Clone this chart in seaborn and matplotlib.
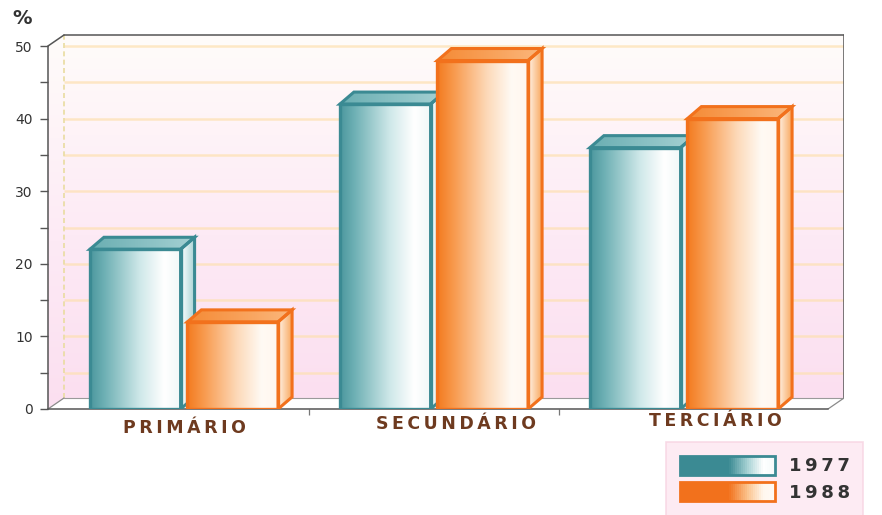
import numpy as np
import pandas as pd
import matplotlib
matplotlib.use("Agg")
import matplotlib.pyplot as plt
import seaborn as sns
from matplotlib.patches import Polygon, Rectangle
from matplotlib.colors import LinearSegmentedColormap, to_rgba
from matplotlib.legend_handler import HandlerBase

# ---- data -------------------------------------------------------------
sectors = ["PRIMÁRIO", "SECUNDÁRIO", "TERCIÁRIO"]
years = ["1977", "1988"]
share_1977 = [22, 42, 36]
share_1988 = [12, 48, 40]
y_ticks = [0, 10, 20, 30, 40, 50]

df = pd.DataFrame({
    "setor": sectors * 2,
    "ano": [years[0]] * 3 + [years[1]] * 3,
    "pct": share_1977 + share_1988,
})

# ---- style ------------------------------------------------------------
sns.set_theme(style="white")
plt.rcParams["font.family"] = ["DejaVu Sans"]

fill = {"1977": "#5aa3a9", "1988": "#f6822a"}
edge = {"1977": "#3b8a93", "1988": "#f2711c"}
front_cm = {
    "1977": LinearSegmentedColormap.from_list(
        "t_front", [(0, "#4c979e"), (0.15, "#6cafb3"), (0.55, "#cfe8e9"),
                    (0.82, "#ffffff"), (1, "#f0f8f8")]),
    "1988": LinearSegmentedColormap.from_list(
        "o_front", [(0, "#f37a1f"), (0.18, "#f8994c"), (0.55, "#fdd9b8"),
                    (0.82, "#fffaf4"), (1, "#fff6ee")]),
}
side_cm = {
    "1977": LinearSegmentedColormap.from_list("t_side", ["#ffffff", "#a6d2d4"]),
    "1988": LinearSegmentedColormap.from_list("o_side", ["#fff4ea", "#f9a960"]),
}
top_cm = {
    "1977": LinearSegmentedColormap.from_list("t_top", ["#6aaeb2", "#a5d1d3"]),
    "1988": LinearSegmentedColormap.from_list("o_top", ["#f58a35", "#fbb77c"]),
}
legend_cm = {
    "1977": LinearSegmentedColormap.from_list(
        "t_leg", [(0, "#3b8a93"), (0.52, "#3b8a93"), (0.72, "#a9d3d5"),
                  (0.88, "#ffffff"), (1, "#f4fafa")]),
    "1988": LinearSegmentedColormap.from_list(
        "o_leg", [(0, "#f2711c"), (0.52, "#f2711c"), (0.72, "#fbc48f"),
                  (0.88, "#fff7ee"), (1, "#fffaf5")]),
}

# ---- geometry (pixels) -----------------------------------------------
W, H = 882, 515
px_x = 1 / 250.0          # data units per pixel, horizontal
px_y = 1 / 7.26           # data units per pixel, vertical
x_front0 = -0.544         # front-left corner of the floor
front_len_px = 780
wall_dx, wall_dy = 16, 11     # depth of the box
bar_dx, bar_dy = 14, 12       # depth of each bar

left_px, bottom_px = 48, 409
ax_w_px = front_len_px + wall_dx
ax_h_px = 379

fig = plt.figure(figsize=(W / 100, H / 100), dpi=100)
ax = fig.add_axes([left_px / W, (H - bottom_px) / H, ax_w_px / W, ax_h_px / H])
ax.patch.set_visible(False)

sns.barplot(data=df, x="setor", y="pct", hue="ano", order=sectors,
            hue_order=years, palette=fill, width=0.78, gap=0.07,
            saturation=1, legend=False, ax=ax)

x0 = x_front0
x1 = x_front0 + front_len_px * px_x
xlim = (x0, x0 + ax_w_px * px_x)
ylim = (0, ax_h_px * px_y)
ax.set_xlim(*xlim)
ax.set_ylim(*ylim)
ax.set_autoscale_on(False)

wdx, wdy = wall_dx * px_x, wall_dy * px_y
bdx, bdy = bar_dx * px_x, bar_dy * px_y
ymax = 50


def gradient_fill(poly, cmap, extent, z, horizontal=True):
    ax.add_patch(poly)
    g = np.linspace(0, 1, 256)
    img = g[None, :] if horizontal else g[::-1][:, None]
    im = ax.imshow(img, cmap=cmap, extent=extent, aspect="auto",
                   interpolation="bicubic", zorder=z)
    im.set_clip_path(poly)
    return im


# ---- box: back wall, left wall, floor ---------------------------------
wall_cm = LinearSegmentedColormap.from_list(
    "wall", [(0, "#fbdff0"), (0.45, "#fdeaf5"), (1, "#fffcfa")])
back = Polygon([(x0 + wdx, wdy), (x1 + wdx, wdy), (x1 + wdx, ymax + wdy),
                (x0 + wdx, ymax + wdy)], closed=True, facecolor="none",
               edgecolor="none", zorder=0)
gradient_fill(back, wall_cm, (x0 + wdx, x1 + wdx, wdy, ymax + wdy), 0,
              horizontal=False)
side_wall = Polygon([(x0, 0), (x0 + wdx, wdy), (x0 + wdx, ymax + wdy),
                     (x0, ymax)], closed=True, facecolor="none",
                    edgecolor="none", zorder=0)
gradient_fill(side_wall, wall_cm, (x0, x0 + wdx, 0, ymax + wdy), 0,
              horizontal=False)
ax.add_patch(Polygon([(x0, 0), (x1, 0), (x1 + wdx, wdy), (x0 + wdx, wdy)],
                     closed=True, facecolor="white", edgecolor="none",
                     zorder=0.5))

# grid lines on the back wall
for lv in np.arange(5, 51, 5):
    ax.plot([x0 + wdx, x1 + wdx], [lv, lv], color="#fde0b0", lw=1.8,
            alpha=0.7, zorder=1, solid_capstyle="butt")
ax.plot([x0 + wdx, x0 + wdx], [wdy, ymax + wdy], color="#e9dca0", lw=1.2,
        ls=(0, (3, 2)), zorder=1.2)

frame = dict(color="#555555", lw=1.1, zorder=2, solid_capstyle="round")
ax.plot([x0, x0 + wdx], [ymax, ymax + wdy], **frame)
ax.plot([x0 + wdx, x1 + wdx], [ymax + wdy, ymax + wdy], **frame)
ax.plot([x1 + wdx, x1 + wdx], [wdy, ymax + wdy], **frame)
ax.plot([x1, x1 + wdx], [0, wdy], color="#8a8a8a", lw=0.9, zorder=2)
ax.plot([x0, x0 + wdx], [0, wdy], color="#8a8a8a", lw=0.9, zorder=2)
ax.plot([x0 + wdx, x1 + wdx], [wdy, wdy], color="#9a9a9a", lw=0.8, zorder=1.5)

# ---- 3D bars ----------------------------------------------------------
bars = sorted([p for p in ax.patches if isinstance(p, Rectangle)
               and p.get_height() > 0 and p.get_width() < 1],
              key=lambda p: p.get_x())
for i, p in enumerate(bars):
    rgba = p.get_facecolor()
    yr = min(years, key=lambda k: np.abs(np.array(to_rgba(fill[k])[:3]) -
                                          np.array(rgba[:3])).sum())
    x, w, h = p.get_x(), p.get_width(), p.get_height()
    z = 10 + 3 * i
    ax.imshow(np.linspace(0, 1, 256)[None, :], cmap=front_cm[yr],
              extent=(x, x + w, 0, h), aspect="auto",
              interpolation="bicubic", zorder=z)
    p.set_facecolor("none")
    p.set_edgecolor(edge[yr])
    p.set_linewidth(2.4)
    p.set_joinstyle("miter")
    p.set_zorder(z + 0.6)

    side = Polygon([(x + w, 0), (x + w + bdx, bdy), (x + w + bdx, h + bdy),
                    (x + w, h)], closed=True, facecolor="none",
                   edgecolor="none", zorder=z)
    gradient_fill(side, side_cm[yr], (x + w, x + w + bdx, 0, h + bdy), z)
    ax.add_patch(Polygon(side.get_xy(), closed=True, facecolor="none",
                         edgecolor=edge[yr], lw=2.2, joinstyle="miter",
                         zorder=z + 0.5))

    top = Polygon([(x, h), (x + w, h), (x + w + bdx, h + bdy),
                   (x + bdx, h + bdy)], closed=True, facecolor="none",
                  edgecolor="none", zorder=z)
    gradient_fill(top, top_cm[yr], (x, x + w + bdx, h, h + bdy), z)
    ax.add_patch(Polygon(top.get_xy(), closed=True, facecolor="none",
                         edgecolor=edge[yr], lw=2.2, joinstyle="miter",
                         zorder=z + 0.5))

# ---- axes -------------------------------------------------------------
for s in ["top", "right"]:
    ax.spines[s].set_visible(False)
ax.spines["left"].set_bounds(0, ymax)
ax.spines["bottom"].set_bounds(x0, x1)
for s in ["left", "bottom"]:
    ax.spines[s].set_color("#555555")
    ax.spines[s].set_linewidth(1.1)

ax.set_yticks(y_ticks)
ax.set_yticks(np.arange(5, 50, 10), minor=True)
ax.set_yticklabels([str(t) for t in y_ticks])
ax.tick_params(axis="y", which="both", direction="out", length=6, width=1,
               color="#555555", left=True, pad=5, labelsize=10,
               labelcolor="#333333")
ax.set_xticks([0.5, 1.5])
ax.set_xticklabels([])
ax.tick_params(axis="x", direction="out", length=4, width=0.9,
               color="#777777", bottom=True)
ax.set_xlabel("")
ax.set_ylabel("")

label_dx = [0.0, 0.09, 0.124]
label_y_px = [428, 424, 421]
for i, name in enumerate(sectors):
    xd = ax.transData.transform((i + label_dx[i], 0))[0]
    fig.text(xd / W, 1 - label_y_px[i] / H, "\u2009".join(name),
             ha="center", va="center", fontsize=12.5, fontweight="bold",
             color="#6e3a1f")

fig.text(22 / W, 1 - 19 / H, "%", ha="center", va="center", fontsize=14,
         fontweight="bold", color="#333333")


# ---- legend -----------------------------------------------------------
class GradientSwatch(HandlerBase):
    def create_artists(self, legend, orig_handle, xdescent, ydescent,
                       width, height, fontsize, trans):
        yr = orig_handle.get_label()
        n = 48
        arts = []
        for k in range(n):
            arts.append(Rectangle((-xdescent + k * width / n, -ydescent),
                                  width / n * 1.1, height,
                                  facecolor=legend_cm[yr]((k + 0.5) / n),
                                  edgecolor="none", transform=trans))
        arts.append(Rectangle((-xdescent, -ydescent), width, height,
                              facecolor="none", edgecolor=edge[yr], lw=2,
                              transform=trans))
        return arts


handles = [Rectangle((0, 0), 1, 1, label=y) for y in years]
leg = fig.legend(handles, ["\u2009".join(y) for y in years],
                 handler_map={Rectangle: GradientSwatch()},
                 loc="upper left", bbox_to_anchor=(666 / W, 1 - 442 / H),
                 borderaxespad=0, fontsize=13, handlelength=5.3,
                 handleheight=1.25, handletextpad=0.75, labelspacing=0.4,
                 borderpad=0.75, frameon=True, fancybox=False)
leg.get_frame().set_facecolor("#fde7f1")
leg.get_frame().set_edgecolor("#f7d3e2")
leg.get_frame().set_linewidth(1.2)
for t in leg.get_texts():
    t.set_fontweight("bold")
    t.set_color("#333333")

fig.savefig("out.png", dpi=100, facecolor="white")
